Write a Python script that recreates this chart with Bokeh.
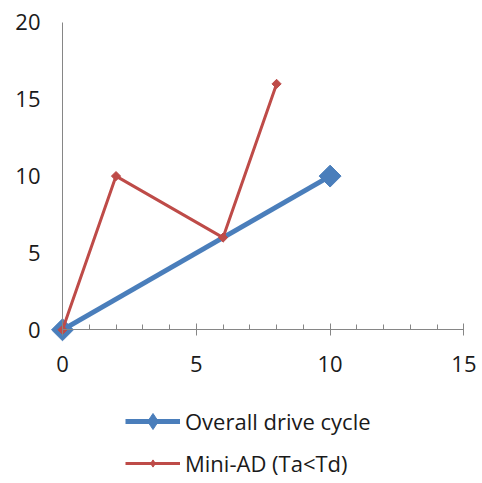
import math
from bokeh.plotting import figure
from bokeh.models import Range1d, SingleIntervalTicker, Legend, LegendItem, LinearAxis
from bokeh.embed import file_html
from bokeh.resources import INLINE

overall_x = [0, 10]
overall_y = [0, 10]
mini_x = [0, 2, 6, 8]
mini_y = [0, 10, 6, 16]
x_ticks = [0, 5, 10, 15]
y_ticks = [0, 5, 10, 15, 20]
series_names = ["Overall drive cycle", "Mini-AD (Ta<Td)"]

BLUE = "#4A7EBB"
RED = "#BE4B48"
AXIS = "#868686"
TEXT = "#1a1a1a"
FONT = "Open Sans"

p = figure(width=482, height=483, output_backend="svg", toolbar_location=None,
           x_range=Range1d(-2.317, 15.695), y_range=Range1d(-10.0, 21.425),
           x_axis_location=None, y_axis_location=None,
           min_border=0)
p.outline_line_color = None
p.background_fill_color = "white"
p.border_fill_color = "white"
p.grid.visible = False

xa = LinearAxis(ticker=SingleIntervalTicker(interval=5, num_minor_ticks=5))
xa.fixed_location = 0
xa.bounds = (x_ticks[0], x_ticks[-1])
xa.axis_line_color = AXIS
xa.major_tick_line_color = AXIS
xa.minor_tick_line_color = AXIS
xa.major_tick_in = 6
xa.major_tick_out = 6
xa.minor_tick_in = 5
xa.minor_tick_out = 0
xa.major_label_standoff = 20
xa.major_label_text_font = FONT
xa.major_label_text_font_size = "22px"
xa.major_label_text_color = TEXT
p.add_layout(xa, "below")

ya = LinearAxis(ticker=SingleIntervalTicker(interval=5, num_minor_ticks=0))
ya.fixed_location = 0
ya.bounds = (y_ticks[0], y_ticks[-1])
ya.axis_line_color = AXIS
ya.major_tick_line_color = None
ya.minor_tick_line_color = None
ya.major_tick_in = 0
ya.major_tick_out = 0
ya.major_label_standoff = 22
ya.major_label_text_font = FONT
ya.major_label_text_font_size = "22px"
ya.major_label_text_color = TEXT
p.add_layout(ya, "left")

r1l = p.line(overall_x, overall_y, line_color=BLUE, line_width=5)
r1m = p.scatter(overall_x, overall_y, marker="square", angle=math.pi / 4, size=15.5,
                fill_color=BLUE, line_color=BLUE)
r2l = p.line(mini_x, mini_y, line_color=RED, line_width=3)
r2m = p.scatter(mini_x, mini_y, marker="square", angle=math.pi / 4, size=6.5,
                fill_color=RED, line_color=RED)

# legend-only marker glyphs (diamond shape, not drawn on the plot)
l1m = p.scatter(overall_x, overall_y, marker="diamond", fill_color=BLUE, line_color=BLUE, visible=False)
l1l = p.line(overall_x, overall_y, line_color=BLUE, line_width=5, visible=False)
l2m = p.scatter(mini_x, mini_y, marker="diamond", fill_color=RED, line_color=RED, visible=False)
l2l = p.line(mini_x, mini_y, line_color=RED, line_width=3, visible=False)


def make_legend(label, renderers, loc, gh):
    lg = Legend(items=[LegendItem(label=label, renderers=renderers)],
                location=loc, orientation="vertical")
    lg.border_line_color = None
    lg.background_fill_alpha = 0
    lg.margin = 0
    lg.padding = 0
    lg.spacing = 0
    lg.glyph_width = 55
    lg.glyph_height = gh
    lg.label_height = gh
    lg.label_standoff = 5
    lg.label_text_font = FONT
    lg.label_text_font_size = "22px"
    lg.label_text_color = TEXT
    return lg


p.add_layout(make_legend(series_names[0], [l1l, l1m], (125, 42), 40), "center")
p.add_layout(make_legend(series_names[1], [l2l, l2m], (125, 5), 18), "center")

open("out.html", "w").write(file_html(p, INLINE))
